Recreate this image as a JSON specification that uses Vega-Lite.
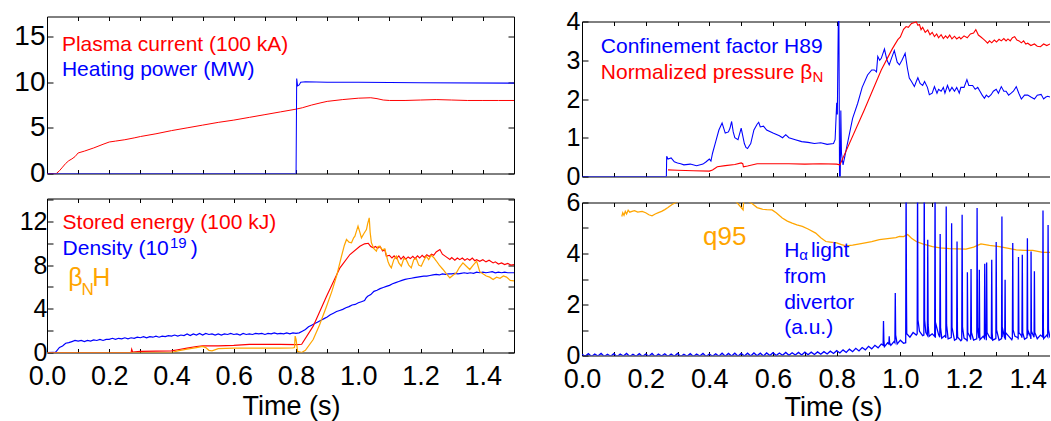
{
"$schema":"https://vega.github.io/schema/vega-lite/v6.json",
"padding":{"left":13,"top":9.5,"right":0,"bottom":0},
"background":"white",
"config":{"view":{"stroke":null},"font":"Liberation Sans",
 "axis":{"domainColor":"black","tickColor":"black","labelColor":"black","titleColor":"black","grid":false,"labelFont":"Liberation Sans","titleFont":"Liberation Sans","titleFontWeight":"normal","labelFlush":false,"labelOverlap":false,"tickWidth":1,"domainWidth":1},
 "text":{"font":"Liberation Sans"}},
"spacing":48,
"hconcat":[
{"spacing":0,"vconcat":[
 {"width":467,"height":157,
  "layer":[
   {"data":{"name":"a"},"mark":{"type":"line","clip":true},
    "encoding":{
     "x":{"field":"t","type":"quantitative","scale":{"domain":[0,1.5],"nice":false,"zero":false},"axis":{"orient":"bottom","values":[0,0.1,0.2,0.3,0.4,0.5,0.6,0.7,0.8,0.9,1,1.1,1.2,1.3,1.4,1.5],"labels":false,"tickSize":-4,"title":null}},
     "y":{"field":"v","type":"quantitative","scale":{"domain":[0,17.2],"nice":false,"zero":false},"axis":{"orient":"left","values":[0,5,10,15],"tickSize":-6,"labelFontSize":28,"labelPadding":8,"title":null}},
     "color":{"field":"s","type":"nominal","scale":{"domain":["Ip","P","H","bN","W","n","bH","q","ha"],"range":["#ff0000","#0000ff","#0000ff","#ff0000","#ff0000","#0000ff","#ffa500","#ffa500","#0000ff"]},"legend":null},
     "strokeWidth":{"field":"s","type":"nominal","scale":{"domain":["Ip","P","H","bN","W","n","bH","q","ha"],"range":[1,1.3,1.4,1,1,3,1,1,1.5]},"legend":null}}},
   {"data":{"name":"ta"},"mark":{"type":"text","align":"left","baseline":"alphabetic","fontSize":21},
    "encoding":{
     "x":{"field":"t","type":"quantitative","axis":{"orient":"top","values":[0,0.1,0.2,0.3,0.4,0.5,0.6,0.7,0.8,0.9,1,1.1,1.2,1.3,1.4,1.5],"labels":false,"tickSize":-4,"title":null}},
     "y":{"field":"v","type":"quantitative","axis":{"orient":"right","values":[0,5,10,15],"labels":false,"tickSize":-6,"title":null}},
     "text":{"field":"label"},
     "color":{"field":"s","type":"nominal","scale":{"domain":["Ip","P","H","bN","W","n","bH","q","ha"],"range":["#ff0000","#0000ff","#0000ff","#ff0000","#ff0000","#0000ff","#ffa500","#ffa500","#0000ff"]},"legend":null}}}
  ],
  "resolve":{"axis":{"x":"independent","y":"independent"}}},
 {"width":467,"height":154,
  "layer":[
   {"data":{"name":"c"},"mark":{"type":"line","clip":true},
    "encoding":{
     "x":{"field":"t","type":"quantitative","scale":{"domain":[0,1.5],"nice":false,"zero":false},"axis":{"orient":"bottom","values":[0,0.1,0.2,0.3,0.4,0.5,0.6,0.7,0.8,0.9,1,1.1,1.2,1.3,1.4,1.5],"labelExpr":"round(datum.value*10)%2==0 ? format(datum.value,'.1f') : ''","tickSize":-4,"labelFontSize":27,"labelPadding":15,"title":"Time (s)","titleFontSize":27,"titleX":244,"titleY":62,"titleBaseline":"alphabetic"}},
     "y":{"field":"v","type":"quantitative","scale":{"domain":[0,14.1],"nice":false,"zero":false},"axis":{"orient":"left","values":[0,2,4,6,8,10,12,14],"labelExpr":"datum.value%4==0 ? datum.label : ''","tickSize":-6,"labelFontSize":25,"labelPadding":6,"title":null}},
     "color":{"field":"s","type":"nominal","scale":{"domain":["Ip","P","H","bN","W","n","bH","q","ha"],"range":["#ff0000","#0000ff","#0000ff","#ff0000","#ff0000","#0000ff","#ffa500","#ffa500","#0000ff"]},"legend":null},
     "strokeWidth":{"field":"s","type":"nominal","scale":{"domain":["Ip","P","H","bN","W","n","bH","q","ha"],"range":[1,1.3,1.4,1,1,3,1,1,1.5]},"legend":null}}},
   {"data":{"name":"tc"},"transform":[{"filter":"datum.r=='m'"}],"mark":{"type":"text","align":"left","baseline":"alphabetic","fontSize":21},
    "encoding":{
     "x":{"field":"t","type":"quantitative","axis":{"orient":"top","values":[0,0.1,0.2,0.3,0.4,0.5,0.6,0.7,0.8,0.9,1,1.1,1.2,1.3,1.4,1.5],"labels":false,"tickSize":-4,"title":null}},
     "y":{"field":"v","type":"quantitative","axis":{"orient":"right","values":[0,2,4,6,8,10,12,14],"labels":false,"tickSize":-6,"title":null}},
     "text":{"field":"label"},
     "color":{"field":"s","type":"nominal","scale":{"domain":["Ip","P","H","bN","W","n","bH","q","ha"],"range":["#ff0000","#0000ff","#0000ff","#ff0000","#ff0000","#0000ff","#ffa500","#ffa500","#0000ff"]},"legend":null}}},
   {"data":{"name":"tc"},"transform":[{"filter":"datum.r=='sub'"}],"mark":{"type":"text","align":"left","baseline":"alphabetic","fontSize":15},
    "encoding":{
     "x":{"field":"t","type":"quantitative","axis":null},
     "y":{"field":"v","type":"quantitative","axis":null},
     "text":{"field":"label"},
     "color":{"field":"s","type":"nominal","scale":{"domain":["Ip","P","H","bN","W","n","bH","q","ha"],"range":["#ff0000","#0000ff","#0000ff","#ff0000","#ff0000","#0000ff","#ffa500","#ffa500","#0000ff"]},"legend":null}}},
   {"data":{"name":"tc"},"transform":[{"filter":"datum.r=='big'"}],"mark":{"type":"text","align":"left","baseline":"alphabetic","fontSize":25},
    "encoding":{
     "x":{"field":"t","type":"quantitative","axis":null},
     "y":{"field":"v","type":"quantitative","axis":null},
     "text":{"field":"label"},
     "color":{"field":"s","type":"nominal","scale":{"domain":["Ip","P","H","bN","W","n","bH","q","ha"],"range":["#ff0000","#0000ff","#0000ff","#ff0000","#ff0000","#0000ff","#ffa500","#ffa500","#0000ff"]},"legend":null}}},
   {"data":{"name":"tc"},"transform":[{"filter":"datum.r=='bsub'"}],"mark":{"type":"text","align":"left","baseline":"alphabetic","fontSize":17},
    "encoding":{
     "x":{"field":"t","type":"quantitative","axis":null},
     "y":{"field":"v","type":"quantitative","axis":null},
     "text":{"field":"label"},
     "color":{"field":"s","type":"nominal","scale":{"domain":["Ip","P","H","bN","W","n","bH","q","ha"],"range":["#ff0000","#0000ff","#0000ff","#ff0000","#ff0000","#0000ff","#ffa500","#ffa500","#0000ff"]},"legend":null}}}
  ],
  "resolve":{"axis":{"x":"independent","y":"independent"}}}
]},
{"spacing":1,"vconcat":[
 {"width":468,"height":160,
  "layer":[
   {"data":{"name":"b"},"mark":{"type":"line","clip":true},
    "encoding":{
     "x":{"field":"t","type":"quantitative","scale":{"domain":[0,1.47],"nice":false,"zero":false},"axis":{"orient":"bottom","values":[0,0.1,0.2,0.3,0.4,0.5,0.6,0.7,0.8,0.9,1,1.1,1.2,1.3,1.4],"labels":false,"tickSize":-4,"title":null}},
     "y":{"field":"v","type":"quantitative","scale":{"domain":[0,4],"range":[160,5],"nice":false,"zero":false},"axis":{"orient":"left","values":[0,1,2,3,4],"tickSize":-6,"labelFontSize":25,"labelPadding":8,"title":null}},
     "color":{"field":"s","type":"nominal","scale":{"domain":["Ip","P","H","bN","W","n","bH","q","ha"],"range":["#ff0000","#0000ff","#0000ff","#ff0000","#ff0000","#0000ff","#ffa500","#ffa500","#0000ff"]},"legend":null},
     "strokeWidth":{"field":"s","type":"nominal","scale":{"domain":["Ip","P","H","bN","W","n","bH","q","ha"],"range":[1,1.3,1.4,1,1,3,1,1,1.5]},"legend":null}}},
   {"data":{"name":"tb"},"transform":[{"filter":"datum.r=='m'"}],"mark":{"type":"text","align":"left","baseline":"alphabetic","fontSize":21},
    "encoding":{
     "x":{"field":"t","type":"quantitative","axis":{"orient":"top","offset":-5,"values":[0,0.1,0.2,0.3,0.4,0.5,0.6,0.7,0.8,0.9,1,1.1,1.2,1.3,1.4],"labels":false,"tickSize":-4,"title":null}},
     "y":{"field":"v","type":"quantitative","axis":null},
     "text":{"field":"label"},
     "color":{"field":"s","type":"nominal","scale":{"domain":["Ip","P","H","bN","W","n","bH","q","ha"],"range":["#ff0000","#0000ff","#0000ff","#ff0000","#ff0000","#0000ff","#ffa500","#ffa500","#0000ff"]},"legend":null}}},
   {"data":{"name":"tb"},"transform":[{"filter":"datum.r=='sub'"}],"mark":{"type":"text","align":"left","baseline":"alphabetic","fontSize":15},
    "encoding":{
     "x":{"field":"t","type":"quantitative","axis":null},
     "y":{"field":"v","type":"quantitative","axis":null},
     "text":{"field":"label"},
     "color":{"field":"s","type":"nominal","scale":{"domain":["Ip","P","H","bN","W","n","bH","q","ha"],"range":["#ff0000","#0000ff","#0000ff","#ff0000","#ff0000","#0000ff","#ffa500","#ffa500","#0000ff"]},"legend":null}}}
  ],
  "resolve":{"axis":{"x":"independent","y":"independent"}}},
 {"width":468,"height":153,
  "layer":[
   {"data":{"name":"d"},"mark":{"type":"line","clip":true},
    "encoding":{
     "x":{"field":"t","type":"quantitative","scale":{"domain":[0,1.47],"nice":false,"zero":false},"axis":{"orient":"bottom","values":[0,0.1,0.2,0.3,0.4,0.5,0.6,0.7,0.8,0.9,1,1.1,1.2,1.3,1.4],"labelExpr":"round(datum.value*10)%2==0 ? format(datum.value,'.1f') : ''","tickSize":-4,"labelFontSize":27,"labelPadding":15,"title":"Time (s)","titleFontSize":27,"titleX":251,"titleY":60,"titleBaseline":"alphabetic"}},
     "y":{"field":"v","type":"quantitative","scale":{"domain":[0,6],"nice":false,"zero":false},"axis":{"orient":"left","values":[0,1,2,3,4,5,6],"labelExpr":"datum.value%2==0 ? datum.label : ''","tickSize":-6,"labelFontSize":25,"labelPadding":8,"title":null}},
     "color":{"field":"s","type":"nominal","scale":{"domain":["Ip","P","H","bN","W","n","bH","q","ha"],"range":["#ff0000","#0000ff","#0000ff","#ff0000","#ff0000","#0000ff","#ffa500","#ffa500","#0000ff"]},"legend":null},
     "strokeWidth":{"field":"s","type":"nominal","scale":{"domain":["Ip","P","H","bN","W","n","bH","q","ha"],"range":[1,1.3,1.4,1,1,3,1,1,1.5]},"legend":null}}},
   {"data":{"name":"td"},"transform":[{"filter":"datum.r=='m'"}],"mark":{"type":"text","align":"left","baseline":"alphabetic","fontSize":21},
    "encoding":{
     "x":{"field":"t","type":"quantitative","axis":{"orient":"top","values":[0,0.1,0.2,0.3,0.4,0.5,0.6,0.7,0.8,0.9,1,1.1,1.2,1.3,1.4],"labels":false,"tickSize":-4,"title":null}},
     "y":{"field":"v","type":"quantitative","axis":null},
     "text":{"field":"label"},
     "color":{"field":"s","type":"nominal","scale":{"domain":["Ip","P","H","bN","W","n","bH","q","ha"],"range":["#ff0000","#0000ff","#0000ff","#ff0000","#ff0000","#0000ff","#ffa500","#ffa500","#0000ff"]},"legend":null}}},
   {"data":{"name":"td"},"transform":[{"filter":"datum.r=='sub'"}],"mark":{"type":"text","align":"left","baseline":"alphabetic","fontSize":15},
    "encoding":{
     "x":{"field":"t","type":"quantitative","axis":null},
     "y":{"field":"v","type":"quantitative","axis":null},
     "text":{"field":"label"},
     "color":{"field":"s","type":"nominal","scale":{"domain":["Ip","P","H","bN","W","n","bH","q","ha"],"range":["#ff0000","#0000ff","#0000ff","#ff0000","#ff0000","#0000ff","#ffa500","#ffa500","#0000ff"]},"legend":null}}},
   {"data":{"name":"td"},"transform":[{"filter":"datum.r=='big'"}],"mark":{"type":"text","align":"left","baseline":"alphabetic","fontSize":26},
    "encoding":{
     "x":{"field":"t","type":"quantitative","axis":null},
     "y":{"field":"v","type":"quantitative","axis":null},
     "text":{"field":"label"},
     "color":{"field":"s","type":"nominal","scale":{"domain":["Ip","P","H","bN","W","n","bH","q","ha"],"range":["#ff0000","#0000ff","#0000ff","#ff0000","#ff0000","#0000ff","#ffa500","#ffa500","#0000ff"]},"legend":null}}}
  ],
  "resolve":{"axis":{"x":"independent","y":"independent"}}}
]}
],
"datasets":{
"ta":[
 {"t":0.048,"v":13.45,"label":"Plasma current (100 kA)","s":"Ip","r":"m"},
 {"t":0.048,"v":10.65,"label":"Heating power (MW)","s":"P","r":"m"}],
"tb":[
 {"t":0.059,"v":3.18,"label":"Confinement factor H89","s":"H","r":"m"},
 {"t":0.059,"v":2.52,"label":"Normalized pressure β","s":"bN","r":"m"},
 {"t":0.724,"v":2.43,"label":"N","s":"bN","r":"sub"}],
"tc":[
 {"t":0.05,"v":11.29,"label":"Stored energy (100 kJ)","s":"W","r":"m"},
 {"t":0.05,"v":8.91,"label":"Density (10","s":"n","r":"m"},
 {"t":0.395,"v":9.6,"label":"19","s":"n","r":"sub"},
 {"t":0.462,"v":8.91,"label":")","s":"n","r":"m"},
 {"t":0.068,"v":6.1,"label":"β","s":"bH","r":"big"},
 {"t":0.111,"v":5.25,"label":"N","s":"bH","r":"bsub"},
 {"t":0.145,"v":6.1,"label":"H","s":"bH","r":"big"}],
"td":[
 {"t":0.38,"v":4.34,"label":"q95","s":"q","r":"big"},
 {"t":0.635,"v":3.88,"label":"H","s":"ha","r":"m"},
 {"t":0.682,"v":3.73,"label":"α","s":"ha","r":"sub"},
 {"t":0.719,"v":3.88,"label":"light","s":"ha","r":"m"},
 {"t":0.635,"v":2.85,"label":"from","s":"ha","r":"m"},
 {"t":0.635,"v":1.83,"label":"divertor","s":"ha","r":"m"},
 {"t":0.635,"v":0.83,"label":"(a.u.)","s":"ha","r":"m"}],
"a":[
 {"t":0,"v":0,"s":"Ip"},{"t":0.03,"v":0,"s":"Ip"},{"t":0.04,"v":0.3,"s":"Ip"},{"t":0.05,"v":0.7,"s":"Ip"},{"t":0.06,"v":1.1,"s":"Ip"},{"t":0.07,"v":1.4,"s":"Ip"},{"t":0.08,"v":1.6,"s":"Ip"},{"t":0.09,"v":1.85,"s":"Ip"},{"t":0.1,"v":2.25,"s":"Ip"},{"t":0.12,"v":2.45,"s":"Ip"},{"t":0.15,"v":2.8,"s":"Ip"},{"t":0.18,"v":3.2,"s":"Ip"},{"t":0.2,"v":3.45,"s":"Ip"},{"t":0.22,"v":3.55,"s":"Ip"},{"t":0.25,"v":3.7,"s":"Ip"},{"t":0.28,"v":3.9,"s":"Ip"},{"t":0.3,"v":4.05,"s":"Ip"},{"t":0.35,"v":4.35,"s":"Ip"},{"t":0.4,"v":4.7,"s":"Ip"},{"t":0.45,"v":5.0,"s":"Ip"},{"t":0.5,"v":5.3,"s":"Ip"},{"t":0.55,"v":5.6,"s":"Ip"},{"t":0.6,"v":5.85,"s":"Ip"},{"t":0.65,"v":6.15,"s":"Ip"},{"t":0.7,"v":6.45,"s":"Ip"},{"t":0.75,"v":6.75,"s":"Ip"},{"t":0.8,"v":7.05,"s":"Ip"},{"t":0.82,"v":7.2,"s":"Ip"},{"t":0.85,"v":7.5,"s":"Ip"},{"t":0.88,"v":7.75,"s":"Ip"},{"t":0.9,"v":7.9,"s":"Ip"},{"t":0.95,"v":8.1,"s":"Ip"},{"t":1.0,"v":8.25,"s":"Ip"},{"t":1.04,"v":8.3,"s":"Ip"},{"t":1.06,"v":8.2,"s":"Ip"},{"t":1.08,"v":8.05,"s":"Ip"},{"t":1.1,"v":8.0,"s":"Ip"},{"t":1.15,"v":8.0,"s":"Ip"},{"t":1.2,"v":8.05,"s":"Ip"},{"t":1.25,"v":8.1,"s":"Ip"},{"t":1.3,"v":8.05,"s":"Ip"},{"t":1.35,"v":8.0,"s":"Ip"},{"t":1.4,"v":8.0,"s":"Ip"},{"t":1.45,"v":8.0,"s":"Ip"},{"t":1.5,"v":8.0,"s":"Ip"},
 {"t":0,"v":0,"s":"P"},{"t":0.8,"v":0,"s":"P"},{"t":0.802,"v":10.4,"s":"P"},{"t":0.805,"v":9.6,"s":"P"},{"t":0.81,"v":9.7,"s":"P"},{"t":0.815,"v":10.0,"s":"P"},{"t":0.83,"v":10.05,"s":"P"},{"t":0.9,"v":10.0,"s":"P"},{"t":1.0,"v":10.0,"s":"P"},{"t":1.2,"v":9.95,"s":"P"},{"t":1.5,"v":9.9,"s":"P"}],
"b":[
 {"t":0,"v":0,"s":"H"},{"t":0.265,"v":0,"s":"H"},{"t":0.266,"v":0.52,"s":"H"},{"t":0.27,"v":0.45,"s":"H"},{"t":0.28,"v":0.48,"s":"H"},{"t":0.29,"v":0.38,"s":"H"},{"t":0.3,"v":0.35,"s":"H"},{"t":0.31,"v":0.33,"s":"H"},{"t":0.32,"v":0.3,"s":"H"},{"t":0.34,"v":0.32,"s":"H"},{"t":0.36,"v":0.28,"s":"H"},{"t":0.38,"v":0.32,"s":"H"},{"t":0.39,"v":0.38,"s":"H"},{"t":0.4,"v":0.45,"s":"H"},{"t":0.405,"v":0.4,"s":"H"},{"t":0.41,"v":0.6,"s":"H"},{"t":0.42,"v":0.9,"s":"H"},{"t":0.43,"v":1.2,"s":"H"},{"t":0.44,"v":1.38,"s":"H"},{"t":0.45,"v":1.12,"s":"H"},{"t":0.46,"v":1.15,"s":"H"},{"t":0.465,"v":1.25,"s":"H"},{"t":0.47,"v":1.42,"s":"H"},{"t":0.475,"v":1.15,"s":"H"},{"t":0.48,"v":1.0,"s":"H"},{"t":0.49,"v":0.95,"s":"H"},{"t":0.5,"v":1.25,"s":"H"},{"t":0.505,"v":1.05,"s":"H"},{"t":0.51,"v":0.85,"s":"H"},{"t":0.515,"v":0.75,"s":"H"},{"t":0.52,"v":0.72,"s":"H"},{"t":0.53,"v":0.85,"s":"H"},{"t":0.54,"v":1.2,"s":"H"},{"t":0.55,"v":1.35,"s":"H"},{"t":0.555,"v":1.4,"s":"H"},{"t":0.56,"v":1.28,"s":"H"},{"t":0.57,"v":1.3,"s":"H"},{"t":0.58,"v":1.2,"s":"H"},{"t":0.6,"v":1.12,"s":"H"},{"t":0.62,"v":1.05,"s":"H"},{"t":0.63,"v":1.0,"s":"H"},{"t":0.64,"v":1.08,"s":"H"},{"t":0.65,"v":1.0,"s":"H"},{"t":0.67,"v":0.95,"s":"H"},{"t":0.69,"v":0.9,"s":"H"},{"t":0.71,"v":0.88,"s":"H"},{"t":0.73,"v":0.85,"s":"H"},{"t":0.75,"v":0.87,"s":"H"},{"t":0.77,"v":0.83,"s":"H"},{"t":0.79,"v":0.85,"s":"H"},{"t":0.795,"v":0.95,"s":"H"},{"t":0.8,"v":1.9,"s":"H"},{"t":0.802,"v":1.6,"s":"H"},{"t":0.805,"v":4.0,"s":"H"},{"t":0.807,"v":4.0,"s":"H"},{"t":0.809,"v":-0.2,"s":"H"},{"t":0.811,"v":-0.2,"s":"H"},{"t":0.813,"v":1.7,"s":"H"},{"t":0.815,"v":0.6,"s":"H"},{"t":0.82,"v":0.3,"s":"H"},{"t":0.83,"v":0.7,"s":"H"},{"t":0.84,"v":1.1,"s":"H"},{"t":0.85,"v":1.5,"s":"H"},{"t":0.866,"v":1.89,"s":"H"},{"t":0.88,"v":2.3,"s":"H"},{"t":0.897,"v":2.62,"s":"H"},{"t":0.91,"v":2.75,"s":"H"},{"t":0.918,"v":2.75,"s":"H"},{"t":0.925,"v":2.7,"s":"H"},{"t":0.929,"v":3.1,"s":"H"},{"t":0.935,"v":3.0,"s":"H"},{"t":0.94,"v":3.05,"s":"H"},{"t":0.95,"v":3.29,"s":"H"},{"t":0.958,"v":3.0,"s":"H"},{"t":0.965,"v":2.88,"s":"H"},{"t":0.972,"v":3.05,"s":"H"},{"t":0.981,"v":3.25,"s":"H"},{"t":0.99,"v":2.95,"s":"H"},{"t":0.997,"v":2.88,"s":"H"},{"t":1.005,"v":3.0,"s":"H"},{"t":1.015,"v":3.18,"s":"H"},{"t":1.022,"v":2.8,"s":"H"},{"t":1.028,"v":2.54,"s":"H"},{"t":1.035,"v":2.45,"s":"H"},{"t":1.044,"v":2.32,"s":"H"},{"t":1.05,"v":2.45,"s":"H"},{"t":1.055,"v":2.55,"s":"H"},{"t":1.062,"v":2.4,"s":"H"},{"t":1.07,"v":2.35,"s":"H"},{"t":1.076,"v":2.45,"s":"H"},{"t":1.085,"v":2.3,"s":"H"},{"t":1.091,"v":2.11,"s":"H"},{"t":1.1,"v":2.15,"s":"H"},{"t":1.107,"v":2.32,"s":"H"},{"t":1.115,"v":2.15,"s":"H"},{"t":1.12,"v":2.25,"s":"H"},{"t":1.128,"v":2.2,"s":"H"},{"t":1.135,"v":2.3,"s":"H"},{"t":1.14,"v":2.15,"s":"H"},{"t":1.148,"v":2.35,"s":"H"},{"t":1.155,"v":2.2,"s":"H"},{"t":1.162,"v":2.3,"s":"H"},{"t":1.17,"v":2.2,"s":"H"},{"t":1.177,"v":2.3,"s":"H"},{"t":1.185,"v":2.15,"s":"H"},{"t":1.19,"v":2.3,"s":"H"},{"t":1.2,"v":2.3,"s":"H"},{"t":1.209,"v":2.5,"s":"H"},{"t":1.215,"v":2.35,"s":"H"},{"t":1.227,"v":2.35,"s":"H"},{"t":1.235,"v":2.25,"s":"H"},{"t":1.243,"v":2.3,"s":"H"},{"t":1.25,"v":2.2,"s":"H"},{"t":1.257,"v":2.1,"s":"H"},{"t":1.264,"v":2.02,"s":"H"},{"t":1.27,"v":2.1,"s":"H"},{"t":1.277,"v":2.05,"s":"H"},{"t":1.285,"v":2.11,"s":"H"},{"t":1.292,"v":2.2,"s":"H"},{"t":1.301,"v":2.25,"s":"H"},{"t":1.308,"v":2.15,"s":"H"},{"t":1.317,"v":2.32,"s":"H"},{"t":1.325,"v":2.2,"s":"H"},{"t":1.332,"v":2.2,"s":"H"},{"t":1.34,"v":2.1,"s":"H"},{"t":1.348,"v":2.15,"s":"H"},{"t":1.355,"v":2.2,"s":"H"},{"t":1.364,"v":2.32,"s":"H"},{"t":1.372,"v":2.15,"s":"H"},{"t":1.38,"v":2.0,"s":"H"},{"t":1.39,"v":2.1,"s":"H"},{"t":1.4,"v":2.1,"s":"H"},{"t":1.41,"v":2.05,"s":"H"},{"t":1.421,"v":2.0,"s":"H"},{"t":1.43,"v":2.1,"s":"H"},{"t":1.442,"v":2.12,"s":"H"},{"t":1.45,"v":2.0,"s":"H"},{"t":1.457,"v":2.05,"s":"H"},{"t":1.463,"v":2.07,"s":"H"},{"t":1.47,"v":2.05,"s":"H"},
 {"t":0.27,"v":0.17,"s":"bN"},{"t":0.3,"v":0.16,"s":"bN"},{"t":0.35,"v":0.15,"s":"bN"},{"t":0.4,"v":0.14,"s":"bN"},{"t":0.41,"v":0.17,"s":"bN"},{"t":0.425,"v":0.25,"s":"bN"},{"t":0.45,"v":0.28,"s":"bN"},{"t":0.48,"v":0.31,"s":"bN"},{"t":0.5,"v":0.35,"s":"bN"},{"t":0.505,"v":0.33,"s":"bN"},{"t":0.507,"v":0.25,"s":"bN"},{"t":0.52,"v":0.27,"s":"bN"},{"t":0.55,"v":0.33,"s":"bN"},{"t":0.6,"v":0.33,"s":"bN"},{"t":0.65,"v":0.33,"s":"bN"},{"t":0.7,"v":0.32,"s":"bN"},{"t":0.75,"v":0.33,"s":"bN"},{"t":0.8,"v":0.32,"s":"bN"},{"t":0.81,"v":0.3,"s":"bN"},{"t":0.887,"v":1.72,"s":"bN"},{"t":0.94,"v":2.75,"s":"bN"},{"t":0.975,"v":3.3,"s":"bN"},{"t":0.992,"v":3.53,"s":"bN"},{"t":1.0,"v":3.6,"s":"bN"},{"t":1.01,"v":3.8,"s":"bN"},{"t":1.018,"v":3.87,"s":"bN"},{"t":1.025,"v":3.85,"s":"bN"},{"t":1.035,"v":3.95,"s":"bN"},{"t":1.05,"v":3.99,"s":"bN"},{"t":1.055,"v":3.9,"s":"bN"},{"t":1.06,"v":3.92,"s":"bN"},{"t":1.065,"v":3.79,"s":"bN"},{"t":1.07,"v":3.85,"s":"bN"},{"t":1.078,"v":3.72,"s":"bN"},{"t":1.086,"v":3.78,"s":"bN"},{"t":1.093,"v":3.66,"s":"bN"},{"t":1.1,"v":3.72,"s":"bN"},{"t":1.107,"v":3.61,"s":"bN"},{"t":1.114,"v":3.68,"s":"bN"},{"t":1.12,"v":3.58,"s":"bN"},{"t":1.128,"v":3.66,"s":"bN"},{"t":1.135,"v":3.56,"s":"bN"},{"t":1.142,"v":3.63,"s":"bN"},{"t":1.148,"v":3.57,"s":"bN"},{"t":1.155,"v":3.65,"s":"bN"},{"t":1.162,"v":3.55,"s":"bN"},{"t":1.17,"v":3.62,"s":"bN"},{"t":1.177,"v":3.55,"s":"bN"},{"t":1.185,"v":3.6,"s":"bN"},{"t":1.19,"v":3.55,"s":"bN"},{"t":1.2,"v":3.63,"s":"bN"},{"t":1.21,"v":3.58,"s":"bN"},{"t":1.22,"v":3.68,"s":"bN"},{"t":1.23,"v":3.7,"s":"bN"},{"t":1.237,"v":3.79,"s":"bN"},{"t":1.245,"v":3.65,"s":"bN"},{"t":1.253,"v":3.6,"s":"bN"},{"t":1.26,"v":3.55,"s":"bN"},{"t":1.267,"v":3.5,"s":"bN"},{"t":1.274,"v":3.44,"s":"bN"},{"t":1.28,"v":3.5,"s":"bN"},{"t":1.287,"v":3.45,"s":"bN"},{"t":1.295,"v":3.52,"s":"bN"},{"t":1.302,"v":3.47,"s":"bN"},{"t":1.31,"v":3.54,"s":"bN"},{"t":1.317,"v":3.5,"s":"bN"},{"t":1.325,"v":3.56,"s":"bN"},{"t":1.332,"v":3.5,"s":"bN"},{"t":1.338,"v":3.55,"s":"bN"},{"t":1.345,"v":3.5,"s":"bN"},{"t":1.352,"v":3.58,"s":"bN"},{"t":1.359,"v":3.61,"s":"bN"},{"t":1.366,"v":3.52,"s":"bN"},{"t":1.373,"v":3.5,"s":"bN"},{"t":1.38,"v":3.45,"s":"bN"},{"t":1.387,"v":3.5,"s":"bN"},{"t":1.394,"v":3.42,"s":"bN"},{"t":1.4,"v":3.44,"s":"bN"},{"t":1.41,"v":3.38,"s":"bN"},{"t":1.421,"v":3.42,"s":"bN"},{"t":1.43,"v":3.36,"s":"bN"},{"t":1.44,"v":3.35,"s":"bN"},{"t":1.45,"v":3.42,"s":"bN"},{"t":1.46,"v":3.38,"s":"bN"},{"t":1.47,"v":3.42,"s":"bN"}],
"c":[
 {"t":0,"v":0,"s":"n"},{"t":0.02,"v":0.02,"s":"n"},{"t":0.025,"v":0,"s":"n"},{"t":0.03,"v":0.1,"s":"n"},{"t":0.04,"v":0.46,"s":"n"},{"t":0.05,"v":0.6,"s":"n"},{"t":0.06,"v":0.85,"s":"n"},{"t":0.07,"v":0.9,"s":"n"},{"t":0.08,"v":1.0,"s":"n"},{"t":0.09,"v":1.1,"s":"n"},{"t":0.1,"v":1.05,"s":"n"},{"t":0.11,"v":1.1,"s":"n"},{"t":0.12,"v":1.0,"s":"n"},{"t":0.13,"v":1.1,"s":"n"},{"t":0.14,"v":1.05,"s":"n"},{"t":0.15,"v":1.15,"s":"n"},{"t":0.16,"v":1.1,"s":"n"},{"t":0.17,"v":1.2,"s":"n"},{"t":0.18,"v":1.1,"s":"n"},{"t":0.19,"v":1.2,"s":"n"},{"t":0.2,"v":1.2,"s":"n"},{"t":0.21,"v":1.3,"s":"n"},{"t":0.22,"v":1.2,"s":"n"},{"t":0.23,"v":1.3,"s":"n"},{"t":0.24,"v":1.25,"s":"n"},{"t":0.25,"v":1.35,"s":"n"},{"t":0.26,"v":1.25,"s":"n"},{"t":0.27,"v":1.35,"s":"n"},{"t":0.28,"v":1.3,"s":"n"},{"t":0.29,"v":1.4,"s":"n"},{"t":0.3,"v":1.35,"s":"n"},{"t":0.31,"v":1.45,"s":"n"},{"t":0.32,"v":1.35,"s":"n"},{"t":0.33,"v":1.45,"s":"n"},{"t":0.34,"v":1.4,"s":"n"},{"t":0.35,"v":1.5,"s":"n"},{"t":0.36,"v":1.4,"s":"n"},{"t":0.37,"v":1.5,"s":"n"},{"t":0.38,"v":1.45,"s":"n"},{"t":0.39,"v":1.55,"s":"n"},{"t":0.4,"v":1.5,"s":"n"},{"t":0.41,"v":1.6,"s":"n"},{"t":0.42,"v":1.5,"s":"n"},{"t":0.43,"v":1.6,"s":"n"},{"t":0.44,"v":1.55,"s":"n"},{"t":0.45,"v":1.7,"s":"n"},{"t":0.46,"v":1.55,"s":"n"},{"t":0.47,"v":1.7,"s":"n"},{"t":0.48,"v":1.6,"s":"n"},{"t":0.49,"v":1.75,"s":"n"},{"t":0.5,"v":1.6,"s":"n"},{"t":0.51,"v":1.75,"s":"n"},{"t":0.52,"v":1.65,"s":"n"},{"t":0.53,"v":1.7,"s":"n"},{"t":0.54,"v":1.6,"s":"n"},{"t":0.55,"v":1.7,"s":"n"},{"t":0.56,"v":1.6,"s":"n"},{"t":0.57,"v":1.7,"s":"n"},{"t":0.58,"v":1.65,"s":"n"},{"t":0.59,"v":1.75,"s":"n"},{"t":0.6,"v":1.65,"s":"n"},{"t":0.61,"v":1.7,"s":"n"},{"t":0.62,"v":1.6,"s":"n"},{"t":0.63,"v":1.75,"s":"n"},{"t":0.64,"v":1.65,"s":"n"},{"t":0.65,"v":1.7,"s":"n"},{"t":0.66,"v":1.65,"s":"n"},{"t":0.67,"v":1.75,"s":"n"},{"t":0.68,"v":1.7,"s":"n"},{"t":0.69,"v":1.75,"s":"n"},{"t":0.7,"v":1.65,"s":"n"},{"t":0.71,"v":1.75,"s":"n"},{"t":0.72,"v":1.7,"s":"n"},{"t":0.73,"v":1.8,"s":"n"},{"t":0.74,"v":1.7,"s":"n"},{"t":0.75,"v":1.75,"s":"n"},{"t":0.76,"v":1.7,"s":"n"},{"t":0.77,"v":1.8,"s":"n"},{"t":0.78,"v":1.7,"s":"n"},{"t":0.79,"v":1.8,"s":"n"},{"t":0.8,"v":1.75,"s":"n"},{"t":0.81,"v":1.8,"s":"n"},{"t":0.82,"v":1.95,"s":"n"},{"t":0.83,"v":2.1,"s":"n"},{"t":0.84,"v":2.35,"s":"n"},{"t":0.85,"v":2.5,"s":"n"},{"t":0.86,"v":2.65,"s":"n"},{"t":0.87,"v":2.8,"s":"n"},{"t":0.88,"v":2.95,"s":"n"},{"t":0.89,"v":3.1,"s":"n"},{"t":0.9,"v":3.25,"s":"n"},{"t":0.91,"v":3.45,"s":"n"},{"t":0.92,"v":3.6,"s":"n"},{"t":0.93,"v":3.75,"s":"n"},{"t":0.94,"v":3.85,"s":"n"},{"t":0.95,"v":3.95,"s":"n"},{"t":0.96,"v":4.1,"s":"n"},{"t":0.97,"v":4.2,"s":"n"},{"t":0.98,"v":4.35,"s":"n"},{"t":0.99,"v":4.4,"s":"n"},{"t":1.0,"v":4.55,"s":"n"},{"t":1.01,"v":4.65,"s":"n"},{"t":1.02,"v":4.75,"s":"n"},{"t":1.025,"v":5.0,"s":"n"},{"t":1.03,"v":5.15,"s":"n"},{"t":1.04,"v":5.3,"s":"n"},{"t":1.05,"v":5.6,"s":"n"},{"t":1.06,"v":5.7,"s":"n"},{"t":1.07,"v":5.85,"s":"n"},{"t":1.08,"v":5.95,"s":"n"},{"t":1.09,"v":6.05,"s":"n"},{"t":1.1,"v":6.15,"s":"n"},{"t":1.11,"v":6.3,"s":"n"},{"t":1.12,"v":6.4,"s":"n"},{"t":1.13,"v":6.5,"s":"n"},{"t":1.14,"v":6.6,"s":"n"},{"t":1.15,"v":6.7,"s":"n"},{"t":1.16,"v":6.75,"s":"n"},{"t":1.17,"v":6.8,"s":"n"},{"t":1.18,"v":6.85,"s":"n"},{"t":1.19,"v":6.9,"s":"n"},{"t":1.2,"v":6.95,"s":"n"},{"t":1.21,"v":7.0,"s":"n"},{"t":1.22,"v":7.0,"s":"n"},{"t":1.23,"v":7.05,"s":"n"},{"t":1.24,"v":7.1,"s":"n"},{"t":1.25,"v":7.15,"s":"n"},{"t":1.26,"v":7.1,"s":"n"},{"t":1.27,"v":7.2,"s":"n"},{"t":1.28,"v":7.15,"s":"n"},{"t":1.29,"v":7.2,"s":"n"},{"t":1.3,"v":7.2,"s":"n"},{"t":1.31,"v":7.25,"s":"n"},{"t":1.32,"v":7.2,"s":"n"},{"t":1.33,"v":7.25,"s":"n"},{"t":1.34,"v":7.3,"s":"n"},{"t":1.35,"v":7.25,"s":"n"},{"t":1.36,"v":7.3,"s":"n"},{"t":1.37,"v":7.25,"s":"n"},{"t":1.38,"v":7.35,"s":"n"},{"t":1.39,"v":7.3,"s":"n"},{"t":1.4,"v":7.35,"s":"n"},{"t":1.41,"v":7.3,"s":"n"},{"t":1.42,"v":7.35,"s":"n"},{"t":1.43,"v":7.4,"s":"n"},{"t":1.44,"v":7.3,"s":"n"},{"t":1.45,"v":7.35,"s":"n"},{"t":1.46,"v":7.3,"s":"n"},{"t":1.47,"v":7.35,"s":"n"},{"t":1.48,"v":7.3,"s":"n"},{"t":1.49,"v":7.3,"s":"n"},{"t":1.5,"v":7.3,"s":"n"},
 {"t":0,"v":0,"s":"W"},{"t":0.27,"v":0,"s":"W"},{"t":0.272,"v":0.3,"s":"W"},{"t":0.275,"v":0.05,"s":"W"},{"t":0.3,"v":0.1,"s":"W"},{"t":0.35,"v":0.12,"s":"W"},{"t":0.4,"v":0.15,"s":"W"},{"t":0.42,"v":0.25,"s":"W"},{"t":0.45,"v":0.4,"s":"W"},{"t":0.48,"v":0.55,"s":"W"},{"t":0.5,"v":0.6,"s":"W"},{"t":0.55,"v":0.6,"s":"W"},{"t":0.6,"v":0.65,"s":"W"},{"t":0.65,"v":0.75,"s":"W"},{"t":0.7,"v":0.75,"s":"W"},{"t":0.75,"v":0.75,"s":"W"},{"t":0.8,"v":0.72,"s":"W"},{"t":0.818,"v":0.75,"s":"W"},{"t":0.855,"v":2.41,"s":"W"},{"t":0.898,"v":5.16,"s":"W"},{"t":0.941,"v":7.75,"s":"W"},{"t":0.973,"v":8.97,"s":"W"},{"t":1.005,"v":9.73,"s":"W"},{"t":1.02,"v":9.95,"s":"W"},{"t":1.032,"v":10.0,"s":"W"},{"t":1.04,"v":9.7,"s":"W"},{"t":1.048,"v":9.58,"s":"W"},{"t":1.055,"v":9.7,"s":"W"},{"t":1.062,"v":9.55,"s":"W"},{"t":1.07,"v":9.7,"s":"W"},{"t":1.078,"v":9.3,"s":"W"},{"t":1.085,"v":9.4,"s":"W"},{"t":1.09,"v":8.82,"s":"W"},{"t":1.1,"v":8.9,"s":"W"},{"t":1.108,"v":8.65,"s":"W"},{"t":1.115,"v":8.85,"s":"W"},{"t":1.122,"v":8.6,"s":"W"},{"t":1.13,"v":8.85,"s":"W"},{"t":1.137,"v":8.55,"s":"W"},{"t":1.145,"v":8.8,"s":"W"},{"t":1.152,"v":8.55,"s":"W"},{"t":1.16,"v":8.75,"s":"W"},{"t":1.167,"v":8.6,"s":"W"},{"t":1.175,"v":8.8,"s":"W"},{"t":1.182,"v":8.6,"s":"W"},{"t":1.19,"v":8.85,"s":"W"},{"t":1.197,"v":8.65,"s":"W"},{"t":1.205,"v":8.9,"s":"W"},{"t":1.212,"v":8.7,"s":"W"},{"t":1.22,"v":8.95,"s":"W"},{"t":1.228,"v":8.8,"s":"W"},{"t":1.235,"v":9.0,"s":"W"},{"t":1.242,"v":8.9,"s":"W"},{"t":1.25,"v":9.2,"s":"W"},{"t":1.262,"v":9.43,"s":"W"},{"t":1.27,"v":9.0,"s":"W"},{"t":1.28,"v":8.8,"s":"W"},{"t":1.294,"v":8.52,"s":"W"},{"t":1.3,"v":8.7,"s":"W"},{"t":1.31,"v":8.45,"s":"W"},{"t":1.318,"v":8.65,"s":"W"},{"t":1.326,"v":8.5,"s":"W"},{"t":1.334,"v":8.65,"s":"W"},{"t":1.342,"v":8.45,"s":"W"},{"t":1.35,"v":8.6,"s":"W"},{"t":1.358,"v":8.45,"s":"W"},{"t":1.366,"v":8.65,"s":"W"},{"t":1.374,"v":8.4,"s":"W"},{"t":1.38,"v":8.5,"s":"W"},{"t":1.39,"v":8.35,"s":"W"},{"t":1.4,"v":8.5,"s":"W"},{"t":1.41,"v":8.3,"s":"W"},{"t":1.42,"v":8.45,"s":"W"},{"t":1.433,"v":8.2,"s":"W"},{"t":1.44,"v":8.3,"s":"W"},{"t":1.45,"v":8.1,"s":"W"},{"t":1.46,"v":8.2,"s":"W"},{"t":1.47,"v":8.05,"s":"W"},{"t":1.48,"v":8.15,"s":"W"},{"t":1.49,"v":8.0,"s":"W"},{"t":1.5,"v":8.05,"s":"W"},
 {"t":0,"v":0,"s":"bH"},{"t":0.4,"v":0,"s":"bH"},{"t":0.42,"v":0.15,"s":"bH"},{"t":0.45,"v":0.3,"s":"bH"},{"t":0.48,"v":0.45,"s":"bH"},{"t":0.5,"v":0.55,"s":"bH"},{"t":0.51,"v":0.45,"s":"bH"},{"t":0.52,"v":0.2,"s":"bH"},{"t":0.53,"v":0.15,"s":"bH"},{"t":0.55,"v":0.35,"s":"bH"},{"t":0.6,"v":0.4,"s":"bH"},{"t":0.65,"v":0.4,"s":"bH"},{"t":0.7,"v":0.4,"s":"bH"},{"t":0.75,"v":0.4,"s":"bH"},{"t":0.79,"v":0.42,"s":"bH"},{"t":0.795,"v":0.45,"s":"bH"},{"t":0.797,"v":1.5,"s":"bH"},{"t":0.8,"v":1.2,"s":"bH"},{"t":0.805,"v":0.1,"s":"bH"},{"t":0.818,"v":0,"s":"bH"},{"t":0.83,"v":0.2,"s":"bH"},{"t":0.855,"v":1.19,"s":"bH"},{"t":0.875,"v":2.5,"s":"bH"},{"t":0.898,"v":4.24,"s":"bH"},{"t":0.915,"v":5.6,"s":"bH"},{"t":0.93,"v":6.99,"s":"bH"},{"t":0.938,"v":7.9,"s":"bH"},{"t":0.946,"v":8.82,"s":"bH"},{"t":0.955,"v":9.8,"s":"bH"},{"t":0.962,"v":10.35,"s":"bH"},{"t":0.97,"v":10.1,"s":"bH"},{"t":0.978,"v":10.04,"s":"bH"},{"t":0.985,"v":10.5,"s":"bH"},{"t":0.989,"v":10.65,"s":"bH"},{"t":0.995,"v":11.2,"s":"bH"},{"t":0.999,"v":11.57,"s":"bH"},{"t":1.005,"v":11.0,"s":"bH"},{"t":1.01,"v":10.5,"s":"bH"},{"t":1.018,"v":10.9,"s":"bH"},{"t":1.026,"v":11.26,"s":"bH"},{"t":1.03,"v":11.8,"s":"bH"},{"t":1.035,"v":12.33,"s":"bH"},{"t":1.038,"v":11.0,"s":"bH"},{"t":1.042,"v":10.04,"s":"bH"},{"t":1.05,"v":9.5,"s":"bH"},{"t":1.058,"v":9.28,"s":"bH"},{"t":1.063,"v":9.7,"s":"bH"},{"t":1.069,"v":9.73,"s":"bH"},{"t":1.077,"v":9.4,"s":"bH"},{"t":1.085,"v":9.5,"s":"bH"},{"t":1.095,"v":8.36,"s":"bH"},{"t":1.1,"v":8.0,"s":"bH"},{"t":1.106,"v":7.75,"s":"bH"},{"t":1.114,"v":8.5,"s":"bH"},{"t":1.122,"v":8.82,"s":"bH"},{"t":1.13,"v":8.2,"s":"bH"},{"t":1.138,"v":7.9,"s":"bH"},{"t":1.146,"v":8.6,"s":"bH"},{"t":1.154,"v":8.5,"s":"bH"},{"t":1.162,"v":8.0,"s":"bH"},{"t":1.17,"v":7.75,"s":"bH"},{"t":1.178,"v":8.5,"s":"bH"},{"t":1.186,"v":8.6,"s":"bH"},{"t":1.194,"v":8.0,"s":"bH"},{"t":1.202,"v":7.9,"s":"bH"},{"t":1.21,"v":8.4,"s":"bH"},{"t":1.218,"v":8.82,"s":"bH"},{"t":1.226,"v":8.5,"s":"bH"},{"t":1.234,"v":8.9,"s":"bH"},{"t":1.242,"v":8.7,"s":"bH"},{"t":1.25,"v":8.4,"s":"bH"},{"t":1.26,"v":8.0,"s":"bH"},{"t":1.272,"v":7.6,"s":"bH"},{"t":1.283,"v":7.2,"s":"bH"},{"t":1.294,"v":6.84,"s":"bH"},{"t":1.305,"v":7.1,"s":"bH"},{"t":1.315,"v":7.3,"s":"bH"},{"t":1.325,"v":7.8,"s":"bH"},{"t":1.336,"v":8.21,"s":"bH"},{"t":1.347,"v":7.9,"s":"bH"},{"t":1.358,"v":7.6,"s":"bH"},{"t":1.369,"v":8.0,"s":"bH"},{"t":1.38,"v":8.36,"s":"bH"},{"t":1.39,"v":7.4,"s":"bH"},{"t":1.4,"v":7.2,"s":"bH"},{"t":1.411,"v":7.0,"s":"bH"},{"t":1.422,"v":6.9,"s":"bH"},{"t":1.433,"v":6.68,"s":"bH"},{"t":1.444,"v":6.9,"s":"bH"},{"t":1.455,"v":6.8,"s":"bH"},{"t":1.466,"v":7.0,"s":"bH"},{"t":1.476,"v":6.9,"s":"bH"},{"t":1.488,"v":6.6,"s":"bH"},{"t":1.5,"v":6.56,"s":"bH"}],
"d":[
 {"t":0.125,"v":5.45,"s":"q"},{"t":0.128,"v":5.6,"s":"q"},{"t":0.132,"v":5.5,"s":"q"},{"t":0.136,"v":5.65,"s":"q"},{"t":0.14,"v":5.55,"s":"q"},{"t":0.145,"v":5.7,"s":"q"},{"t":0.15,"v":5.62,"s":"q"},{"t":0.157,"v":5.65,"s":"q"},{"t":0.165,"v":5.68,"s":"q"},{"t":0.175,"v":5.62,"s":"q"},{"t":0.189,"v":5.65,"s":"q"},{"t":0.2,"v":5.6,"s":"q"},{"t":0.21,"v":5.52,"s":"q"},{"t":0.22,"v":5.48,"s":"q"},{"t":0.23,"v":5.55,"s":"q"},{"t":0.24,"v":5.6,"s":"q"},{"t":0.25,"v":5.65,"s":"q"},{"t":0.26,"v":5.72,"s":"q"},{"t":0.27,"v":5.8,"s":"q"},{"t":0.283,"v":5.92,"s":"q"},{"t":0.295,"v":6.0,"s":"q"},{"t":0.304,"v":6.05,"s":"q"},{"t":0.35,"v":6.3,"s":"q"},{"t":0.4,"v":6.4,"s":"q"},{"t":0.45,"v":6.3,"s":"q"},{"t":0.475,"v":6.1,"s":"q"},{"t":0.482,"v":6.05,"s":"q"},{"t":0.49,"v":5.95,"s":"q"},{"t":0.506,"v":5.71,"s":"q"},{"t":0.508,"v":6.1,"s":"q"},{"t":0.515,"v":6.1,"s":"q"},{"t":0.525,"v":6.02,"s":"q"},{"t":0.535,"v":5.95,"s":"q"},{"t":0.55,"v":5.8,"s":"q"},{"t":0.566,"v":5.74,"s":"q"},{"t":0.58,"v":5.72,"s":"q"},{"t":0.597,"v":5.71,"s":"q"},{"t":0.61,"v":5.6,"s":"q"},{"t":0.629,"v":5.39,"s":"q"},{"t":0.645,"v":5.27,"s":"q"},{"t":0.66,"v":5.19,"s":"q"},{"t":0.675,"v":5.12,"s":"q"},{"t":0.692,"v":5.06,"s":"q"},{"t":0.71,"v":4.96,"s":"q"},{"t":0.734,"v":4.8,"s":"q"},{"t":0.75,"v":4.62,"s":"q"},{"t":0.766,"v":4.47,"s":"q"},{"t":0.78,"v":4.45,"s":"q"},{"t":0.8,"v":4.42,"s":"q"},{"t":0.815,"v":4.35,"s":"q"},{"t":0.829,"v":4.3,"s":"q"},{"t":0.85,"v":4.33,"s":"q"},{"t":0.881,"v":4.4,"s":"q"},{"t":0.91,"v":4.47,"s":"q"},{"t":0.934,"v":4.54,"s":"q"},{"t":0.96,"v":4.58,"s":"q"},{"t":0.986,"v":4.62,"s":"q"},{"t":0.997,"v":4.67,"s":"q"},{"t":1.01,"v":4.66,"s":"q"},{"t":1.023,"v":4.74,"s":"q"},{"t":1.035,"v":4.6,"s":"q"},{"t":1.05,"v":4.47,"s":"q"},{"t":1.07,"v":4.38,"s":"q"},{"t":1.101,"v":4.27,"s":"q"},{"t":1.125,"v":4.22,"s":"q"},{"t":1.154,"v":4.19,"s":"q"},{"t":1.18,"v":4.18,"s":"q"},{"t":1.206,"v":4.17,"s":"q"},{"t":1.23,"v":4.25,"s":"q"},{"t":1.253,"v":4.38,"s":"q"},{"t":1.28,"v":4.32,"s":"q"},{"t":1.311,"v":4.27,"s":"q"},{"t":1.34,"v":4.2,"s":"q"},{"t":1.364,"v":4.14,"s":"q"},{"t":1.39,"v":4.12,"s":"q"},{"t":1.416,"v":4.12,"s":"q"},{"t":1.447,"v":4.04,"s":"q"},{"t":1.472,"v":4.04,"s":"q"},
 {"t":0,"v":0.05,"s":"ha"},{"t":0.01,"v":-0.03,"s":"ha"},{"t":0.02,"v":0.07,"s":"ha"},{"t":0.03,"v":-0.04,"s":"ha"},{"t":0.04,"v":0.06,"s":"ha"},{"t":0.05,"v":-0.02,"s":"ha"},{"t":0.06,"v":0.08,"s":"ha"},{"t":0.07,"v":-0.04,"s":"ha"},{"t":0.08,"v":0.05,"s":"ha"},{"t":0.09,"v":-0.03,"s":"ha"},{"t":0.1,"v":0.07,"s":"ha"},{"t":0.11,"v":-0.05,"s":"ha"},{"t":0.12,"v":0.06,"s":"ha"},{"t":0.13,"v":-0.02,"s":"ha"},{"t":0.14,"v":0.08,"s":"ha"},{"t":0.15,"v":-0.04,"s":"ha"},{"t":0.16,"v":0.05,"s":"ha"},{"t":0.17,"v":-0.03,"s":"ha"},{"t":0.18,"v":0.07,"s":"ha"},{"t":0.19,"v":-0.04,"s":"ha"},{"t":0.2,"v":0.06,"s":"ha"},{"t":0.21,"v":-0.03,"s":"ha"},{"t":0.22,"v":0.08,"s":"ha"},{"t":0.23,"v":-0.05,"s":"ha"},{"t":0.24,"v":0.06,"s":"ha"},{"t":0.25,"v":-0.02,"s":"ha"},{"t":0.26,"v":0.07,"s":"ha"},{"t":0.27,"v":-0.04,"s":"ha"},{"t":0.28,"v":0.06,"s":"ha"},{"t":0.29,"v":-0.03,"s":"ha"},{"t":0.3,"v":0.08,"s":"ha"},{"t":0.31,"v":-0.04,"s":"ha"},{"t":0.32,"v":0.05,"s":"ha"},{"t":0.33,"v":-0.03,"s":"ha"},{"t":0.34,"v":0.07,"s":"ha"},{"t":0.35,"v":-0.04,"s":"ha"},{"t":0.36,"v":0.06,"s":"ha"},{"t":0.37,"v":-0.02,"s":"ha"},{"t":0.38,"v":0.08,"s":"ha"},{"t":0.39,"v":-0.04,"s":"ha"},{"t":0.4,"v":0.06,"s":"ha"},{"t":0.41,"v":-0.03,"s":"ha"},{"t":0.42,"v":0.07,"s":"ha"},{"t":0.43,"v":-0.03,"s":"ha"},{"t":0.44,"v":0.09,"s":"ha"},{"t":0.45,"v":-0.03,"s":"ha"},{"t":0.46,"v":0.08,"s":"ha"},{"t":0.47,"v":-0.02,"s":"ha"},{"t":0.48,"v":0.09,"s":"ha"},{"t":0.49,"v":-0.03,"s":"ha"},{"t":0.5,"v":0.08,"s":"ha"},{"t":0.51,"v":-0.02,"s":"ha"},{"t":0.52,"v":0.09,"s":"ha"},{"t":0.53,"v":-0.02,"s":"ha"},{"t":0.54,"v":0.1,"s":"ha"},{"t":0.55,"v":-0.01,"s":"ha"},{"t":0.56,"v":0.09,"s":"ha"},{"t":0.57,"v":-0.02,"s":"ha"},{"t":0.58,"v":0.1,"s":"ha"},{"t":0.59,"v":0.0,"s":"ha"},{"t":0.6,"v":0.11,"s":"ha"},{"t":0.61,"v":0.0,"s":"ha"},{"t":0.62,"v":0.1,"s":"ha"},{"t":0.63,"v":0.01,"s":"ha"},{"t":0.64,"v":0.12,"s":"ha"},{"t":0.65,"v":0.01,"s":"ha"},{"t":0.66,"v":0.11,"s":"ha"},{"t":0.67,"v":0.02,"s":"ha"},{"t":0.68,"v":0.12,"s":"ha"},{"t":0.69,"v":0.02,"s":"ha"},{"t":0.7,"v":0.13,"s":"ha"},{"t":0.71,"v":0.03,"s":"ha"},{"t":0.72,"v":0.13,"s":"ha"},{"t":0.73,"v":0.04,"s":"ha"},{"t":0.74,"v":0.14,"s":"ha"},{"t":0.75,"v":0.05,"s":"ha"},{"t":0.76,"v":0.15,"s":"ha"},{"t":0.77,"v":0.06,"s":"ha"},{"t":0.78,"v":0.17,"s":"ha"},{"t":0.79,"v":0.08,"s":"ha"},{"t":0.8,"v":0.19,"s":"ha"},{"t":0.81,"v":0.1,"s":"ha"},{"t":0.82,"v":0.22,"s":"ha"},{"t":0.83,"v":0.12,"s":"ha"},{"t":0.84,"v":0.25,"s":"ha"},{"t":0.85,"v":0.15,"s":"ha"},{"t":0.86,"v":0.28,"s":"ha"},{"t":0.87,"v":0.18,"s":"ha"},{"t":0.88,"v":0.31,"s":"ha"},{"t":0.89,"v":0.22,"s":"ha"},{"t":0.9,"v":0.36,"s":"ha"},{"t":0.91,"v":0.26,"s":"ha"},{"t":0.92,"v":0.4,"s":"ha"},{"t":0.93,"v":0.3,"s":"ha"},{"t":0.94,"v":0.45,"s":"ha"},{"t":0.95,"v":0.35,"s":"ha"},{"t":0.96,"v":0.5,"s":"ha"},{"t":0.97,"v":0.4,"s":"ha"},{"t":0.98,"v":0.55,"s":"ha"},{"t":0.99,"v":0.45,"s":"ha"},{"t":1.0,"v":0.6,"s":"ha"},{"t":1.01,"v":0.48,"s":"ha"},{"t":1.02,"v":0.85,"s":"ha"},{"t":1.03,"v":0.72,"s":"ha"},{"t":1.04,"v":0.9,"s":"ha"},{"t":1.05,"v":0.8,"s":"ha"},{"t":1.06,"v":0.95,"s":"ha"},{"t":1.07,"v":0.78,"s":"ha"},{"t":1.08,"v":0.9,"s":"ha"},{"t":1.09,"v":0.75,"s":"ha"},{"t":1.1,"v":0.85,"s":"ha"},{"t":1.11,"v":0.7,"s":"ha"},{"t":1.12,"v":0.82,"s":"ha"},{"t":1.13,"v":0.68,"s":"ha"},{"t":1.14,"v":0.78,"s":"ha"},{"t":1.15,"v":0.65,"s":"ha"},{"t":1.16,"v":0.75,"s":"ha"},{"t":1.17,"v":0.6,"s":"ha"},{"t":1.18,"v":0.72,"s":"ha"},{"t":1.19,"v":0.58,"s":"ha"},{"t":1.2,"v":0.68,"s":"ha"},{"t":1.21,"v":0.55,"s":"ha"},{"t":1.22,"v":0.7,"s":"ha"},{"t":1.23,"v":0.6,"s":"ha"},{"t":1.24,"v":0.75,"s":"ha"},{"t":1.25,"v":0.62,"s":"ha"},{"t":1.26,"v":0.75,"s":"ha"},{"t":1.27,"v":0.6,"s":"ha"},{"t":1.28,"v":0.72,"s":"ha"},{"t":1.29,"v":0.6,"s":"ha"},{"t":1.3,"v":0.75,"s":"ha"},{"t":1.31,"v":0.6,"s":"ha"},{"t":1.32,"v":0.72,"s":"ha"},{"t":1.33,"v":0.62,"s":"ha"},{"t":1.34,"v":0.76,"s":"ha"},{"t":1.35,"v":0.62,"s":"ha"},{"t":1.36,"v":0.75,"s":"ha"},{"t":1.37,"v":0.63,"s":"ha"},{"t":1.38,"v":0.78,"s":"ha"},{"t":1.39,"v":0.64,"s":"ha"},{"t":1.4,"v":0.78,"s":"ha"},{"t":1.41,"v":0.65,"s":"ha"},{"t":1.42,"v":0.8,"s":"ha"},{"t":1.43,"v":0.66,"s":"ha"},{"t":1.44,"v":0.8,"s":"ha"},{"t":1.45,"v":0.66,"s":"ha"},{"t":1.46,"v":0.8,"s":"ha"},{"t":1.47,"v":0.7,"s":"ha"},
 {"t":0.9458,"v":0.4,"s":"ha"},{"t":0.947,"v":1.35,"s":"ha"},{"t":0.9482,"v":0.6,"s":"ha"},
 {"t":0.9638,"v":0.45,"s":"ha"},{"t":0.965,"v":0.75,"s":"ha"},{"t":0.9662,"v":0.5,"s":"ha"},
 {"t":0.9828,"v":0.5,"s":"ha"},{"t":0.984,"v":2.45,"s":"ha"},{"t":0.9852,"v":0.8,"s":"ha"},
 {"t":1.0168,"v":0.5,"s":"ha"},{"t":1.018,"v":7,"s":"ha"},{"t":1.0192,"v":2.2,"s":"ha"},
 {"t":1.0528,"v":0.85,"s":"ha"},{"t":1.054,"v":7,"s":"ha"},{"t":1.0552,"v":1.4,"s":"ha"},
 {"t":1.0738,"v":0.8,"s":"ha"},{"t":1.075,"v":7,"s":"ha"},{"t":1.0762,"v":1.4,"s":"ha"},
 {"t":1.0848,"v":0.8,"s":"ha"},{"t":1.086,"v":4.54,"s":"ha"},{"t":1.0872,"v":1.2,"s":"ha"},
 {"t":1.1078,"v":0.75,"s":"ha"},{"t":1.109,"v":7,"s":"ha"},{"t":1.1102,"v":1.3,"s":"ha"},
 {"t":1.1238,"v":0.72,"s":"ha"},{"t":1.125,"v":4.76,"s":"ha"},{"t":1.1262,"v":1.1,"s":"ha"},
 {"t":1.1428,"v":0.7,"s":"ha"},{"t":1.144,"v":5.84,"s":"ha"},{"t":1.1452,"v":1.2,"s":"ha"},
 {"t":1.1598,"v":0.7,"s":"ha"},{"t":1.161,"v":5.19,"s":"ha"},{"t":1.1622,"v":1.1,"s":"ha"},
 {"t":1.1768,"v":0.65,"s":"ha"},{"t":1.178,"v":4.47,"s":"ha"},{"t":1.1792,"v":1.0,"s":"ha"},
 {"t":1.1928,"v":0.62,"s":"ha"},{"t":1.194,"v":5.52,"s":"ha"},{"t":1.1952,"v":1.1,"s":"ha"},
 {"t":1.2093,"v":0.6,"s":"ha"},{"t":1.2105,"v":3.26,"s":"ha"},{"t":1.2117,"v":0.9,"s":"ha"},
 {"t":1.2208,"v":0.62,"s":"ha"},{"t":1.222,"v":3.39,"s":"ha"},{"t":1.2232,"v":0.9,"s":"ha"},
 {"t":1.2398,"v":0.65,"s":"ha"},{"t":1.241,"v":5.78,"s":"ha"},{"t":1.2422,"v":1.1,"s":"ha"},
 {"t":1.2468,"v":0.68,"s":"ha"},{"t":1.248,"v":3.36,"s":"ha"},{"t":1.2492,"v":0.9,"s":"ha"},
 {"t":1.2638,"v":0.68,"s":"ha"},{"t":1.265,"v":3.6,"s":"ha"},{"t":1.2662,"v":0.9,"s":"ha"},
 {"t":1.2698,"v":0.66,"s":"ha"},{"t":1.271,"v":3.65,"s":"ha"},{"t":1.2722,"v":0.9,"s":"ha"},
 {"t":1.2858,"v":0.66,"s":"ha"},{"t":1.287,"v":3.75,"s":"ha"},{"t":1.2882,"v":0.9,"s":"ha"},
 {"t":1.2998,"v":0.66,"s":"ha"},{"t":1.301,"v":4.45,"s":"ha"},{"t":1.3022,"v":1.0,"s":"ha"},
 {"t":1.3178,"v":0.66,"s":"ha"},{"t":1.319,"v":5.45,"s":"ha"},{"t":1.3202,"v":1.1,"s":"ha"},
 {"t":1.3278,"v":0.67,"s":"ha"},{"t":1.329,"v":2.97,"s":"ha"},{"t":1.3302,"v":0.9,"s":"ha"},
 {"t":1.3518,"v":0.68,"s":"ha"},{"t":1.353,"v":4.41,"s":"ha"},{"t":1.3542,"v":1.0,"s":"ha"},
 {"t":1.3698,"v":0.7,"s":"ha"},{"t":1.371,"v":3.86,"s":"ha"},{"t":1.3722,"v":0.9,"s":"ha"},
 {"t":1.3818,"v":0.7,"s":"ha"},{"t":1.383,"v":3.95,"s":"ha"},{"t":1.3842,"v":0.9,"s":"ha"},
 {"t":1.3978,"v":0.7,"s":"ha"},{"t":1.399,"v":4.6,"s":"ha"},{"t":1.4002,"v":1.0,"s":"ha"},
 {"t":1.4093,"v":0.72,"s":"ha"},{"t":1.4105,"v":4.08,"s":"ha"},{"t":1.4117,"v":0.95,"s":"ha"},
 {"t":1.4198,"v":0.72,"s":"ha"},{"t":1.421,"v":3.3,"s":"ha"},{"t":1.4222,"v":0.9,"s":"ha"},
 {"t":1.4468,"v":0.73,"s":"ha"},{"t":1.448,"v":5.69,"s":"ha"},{"t":1.4492,"v":1.1,"s":"ha"},
 {"t":1.4628,"v":0.74,"s":"ha"},{"t":1.464,"v":5.12,"s":"ha"},{"t":1.4652,"v":1.0,"s":"ha"}]
}
}
